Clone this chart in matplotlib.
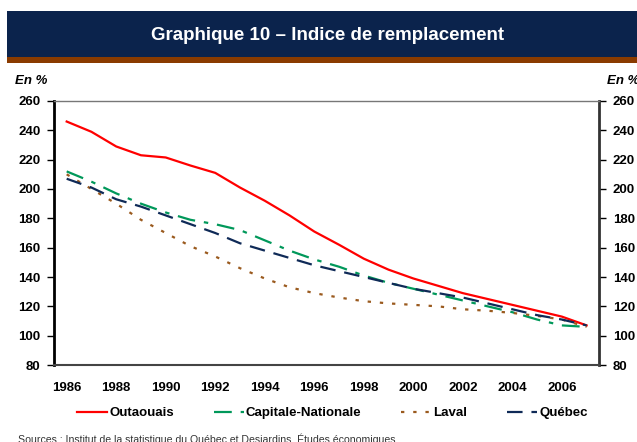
import matplotlib
matplotlib.use("Agg")
import matplotlib.pyplot as plt
from matplotlib.patches import Rectangle

plt.rcParams['font.family'] = ['Liberation Sans', 'DejaVu Sans']

years = list(range(1986, 2008))
outaouais = [246, 239, 229, 223, 221.5, 216, 211, 201, 192, 182, 171, 162,
             152.5, 145, 139, 134, 129, 125, 121, 117, 113, 107]
capitale = [212, 205, 197, 190, 184, 179, 176, 172, 165, 158, 152, 147,
            141, 136, 132, 128, 124, 120, 116, 111, 107, 106]
laval = [210, 200, 190, 179, 170, 161, 154, 146, 139, 133, 129, 126,
         123.5, 122, 121, 120, 118, 117, 115.5, 113.5, 111, 106]
quebec = [207, 201, 193, 188, 182, 176, 170, 163, 158, 153, 148, 144,
          140, 136, 132, 129, 126, 122, 118, 114, 111, 107]
yticks = list(range(80, 261, 20))
xticks = list(range(1986, 2007, 2))

W, H = 637, 442
fig = plt.figure(figsize=(W / 100, H / 100), dpi=100)

# title banner
fig.patches.append(Rectangle((7 / W, 1 - 57 / H), 1, 46 / H, transform=fig.transFigure,
                             facecolor='#0B234C', edgecolor='none'))
fig.patches.append(Rectangle((7 / W, 1 - 63 / H), 1, 6 / H, transform=fig.transFigure,
                             facecolor='#8A3B00', edgecolor='none'))
fig.text(0.515, 1 - 35 / H, 'Graphique 10 – Indice de remplacement', color='white',
         fontsize=13.5, fontweight='bold', ha='center', va='center')

ax = fig.add_axes([54.3 / W, 1 - 365 / H, (599 - 54.3) / W, (365 - 101) / H])
ax.plot(years, outaouais, color='#FF0000', lw=1.6, label='Outaouais')
ax.plot(years, capitale, color='#00985A', lw=1.6, dashes=(8, 4, 2, 4), label='Capitale-Nationale')
ax.plot(years, laval, color='#9A5A1E', lw=1.6, dashes=(1.5, 4), label='Laval')
ax.plot(years, quebec, color='#0F2A57', lw=1.6, dashes=(7, 4), label='Québec')

ax.set_xlim(1985.5, 2007.5)
ax.set_ylim(80, 260)
ax.set_yticks(yticks)
ax.set_xticks(xticks)
ax.tick_params(axis='x', length=0, pad=12, labelsize=9.5)
ax.tick_params(axis='y', length=5, width=1, direction='out', labelsize=9.5,
               left=True, right=True, labelleft=True, labelright=True, pad=5)
for lab in ax.get_xticklabels() + ax.get_yticklabels():
    lab.set_fontweight('bold')
for t in ax.yaxis.get_major_ticks():
    t.label2.set_fontweight('bold')

ax.spines['left'].set_linewidth(2)
ax.spines['left'].set_color('black')
ax.spines['right'].set_linewidth(2)
ax.spines['right'].set_color('#333333')
ax.spines['bottom'].set_linewidth(1.5)
ax.spines['bottom'].set_color('#444444')
ax.spines['top'].set_linewidth(1)
ax.spines['top'].set_color('#777777')

fig.text(15 / W, 1 - 81 / H, 'En %', fontsize=9.5, fontweight='bold', style='italic',
         ha='left', va='center')
fig.text(607 / W, 1 - 81 / H, 'En %', fontsize=9.5, fontweight='bold', style='italic',
         ha='left', va='center')

leg = fig.legend(loc='center', bbox_to_anchor=(0.522, 1 - 413 / H), ncol=4, frameon=False,
                 handlelength=2.3, handletextpad=0.15, columnspacing=3.0,
                 prop={'weight': 'bold', 'size': 9.5})

fig.text(18 / W, 1 - 439 / H,
         'Sources : Institut de la statistique du Québec et Desjardins, Études économiques',
         fontsize=7.6, color='#333333', ha='left', va='center')

fig.savefig('out.png', dpi=100)
